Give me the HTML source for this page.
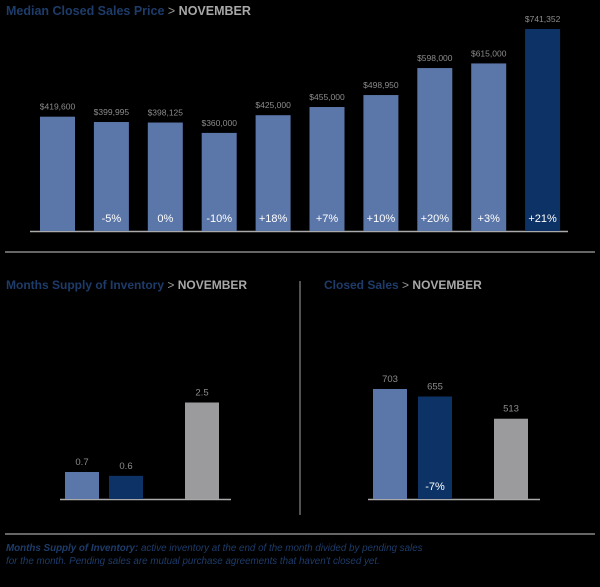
<!DOCTYPE html>
<html><head><meta charset="utf-8"><style>
body{margin:0;background:#000;width:600px;height:587px;overflow:hidden;font-family:"Liberation Sans",sans-serif}
svg{display:block}
</style></head><body>
<svg width="600" height="587" id="svg">
<text x="6" y="15" font-size="12.5" font-weight="bold" fill="#1e3c6a">Median Closed Sales Price <tspan fill="#9a9a9a" font-weight="normal">&gt;</tspan> <tspan fill="#a8a8a8">NOVEMBER</tspan></text>
<line x1="30" y1="231.5" x2="568" y2="231.5" stroke="#aaa" stroke-width="1.5"/>
<line x1="5" y1="252" x2="595" y2="252" stroke="#888" stroke-width="1.5"/>
<text x="6" y="289" font-size="12" font-weight="bold" fill="#1e3c6a">Months Supply of Inventory <tspan fill="#9a9a9a" font-weight="normal">&gt;</tspan> <tspan fill="#a8a8a8">NOVEMBER</tspan></text>
<text x="324" y="289" font-size="12" font-weight="bold" fill="#1e3c6a">Closed Sales <tspan fill="#9a9a9a" font-weight="normal">&gt;</tspan> <tspan fill="#a8a8a8">NOVEMBER</tspan></text>
<line x1="300" y1="281" x2="300" y2="515" stroke="#888" stroke-width="1.2"/>
<line x1="60" y1="499.5" x2="231" y2="499.5" stroke="#aaa" stroke-width="1.5"/>
<line x1="368" y1="499.5" x2="540" y2="499.5" stroke="#aaa" stroke-width="1.5"/>
<line x1="5" y1="534" x2="595" y2="534" stroke="#888" stroke-width="1.5"/>
<text x="6" y="551" font-size="9.8" font-style="italic" fill="#1e3c6a"><tspan font-weight="bold">Months Supply of Inventory:</tspan> active inventory at the end of the month divided by pending sales<tspan x="6" dy="13">for the month. Pending sales are mutual purchase agreements that haven't closed yet.</tspan></text>
<g id="marks"></g>
</svg>
<script>
const priceValues=[419600,399995,398125,360000,425000,455000,498950,598000,615000,741352];
const priceLabels=["$419,600","$399,995","$398,125","$360,000","$425,000","$455,000","$498,950","$598,000","$615,000","$741,352"];
const priceChanges=["","-5%","0%","-10%","+18%","+7%","+10%","+20%","+3%","+21%"];
const supplyValues=[0.7,0.6,2.5];
const supplyLabels=["0.7","0.6","2.5"];
const closedValues=[703,655,513];
const closedLabels=["703","655","513"];
const closedChanges=["","-7%",""];
const LIGHT="#5b76a8",DARK="#0d3366",GRAY="#9b9b9d";
const g=document.getElementById('marks');
function el(t,a){const e=document.createElementNS('http://www.w3.org/2000/svg',t);for(const k in a)e.setAttribute(k,a[k]);g.appendChild(e);return e;}
function txt(x,y,s,size,fill,bold){const t=el('text',{x:x,y:y,'font-size':size,fill:fill,'text-anchor':'middle'});if(bold)t.setAttribute('font-weight','bold');t.textContent=s;return t;}
// price chart
const pY=v=>231-v*(202/741352);
priceValues.forEach((v,i)=>{const x=40+i*53.9;const y=pY(v);
 const r=el('rect',{x:x,y:y,width:35,height:231-y,fill:i===9?DARK:LIGHT});
 
 
 const l=txt(x+17.5,y-7,priceLabels[i],8.5,'#8c8c8c');
 
 
 if(priceChanges[i]){const c=txt(x+17.5,222,priceChanges[i],11,'#fff');
 
 }
});
// supply chart
const sY=v=>499-v*38.6;const sX=[65,109,185];
supplyValues.forEach((v,i)=>{const y=sY(v);
 const r=el('rect',{x:sX[i],y:y,width:34,height:499-y,fill:[LIGHT,DARK,GRAY][i]});
 
 
 const l=txt(sX[i]+17,y-7,supplyLabels[i],9.5,'#8c8c8c');
 
 
});
// closed sales chart
const cY=v=>499-v*0.1565;const cX=[373,418,494];
closedValues.forEach((v,i)=>{const y=cY(v);
 const r=el('rect',{x:cX[i],y:y,width:34,height:499-y,fill:[LIGHT,DARK,GRAY][i]});
 
 
 const l=txt(cX[i]+17,y-7,closedLabels[i],9.5,'#8c8c8c');
 
 
 if(closedChanges[i]){const c=txt(cX[i]+17,490,closedChanges[i],11,'#fff');
 
 }
});
</script>
</body></html>
